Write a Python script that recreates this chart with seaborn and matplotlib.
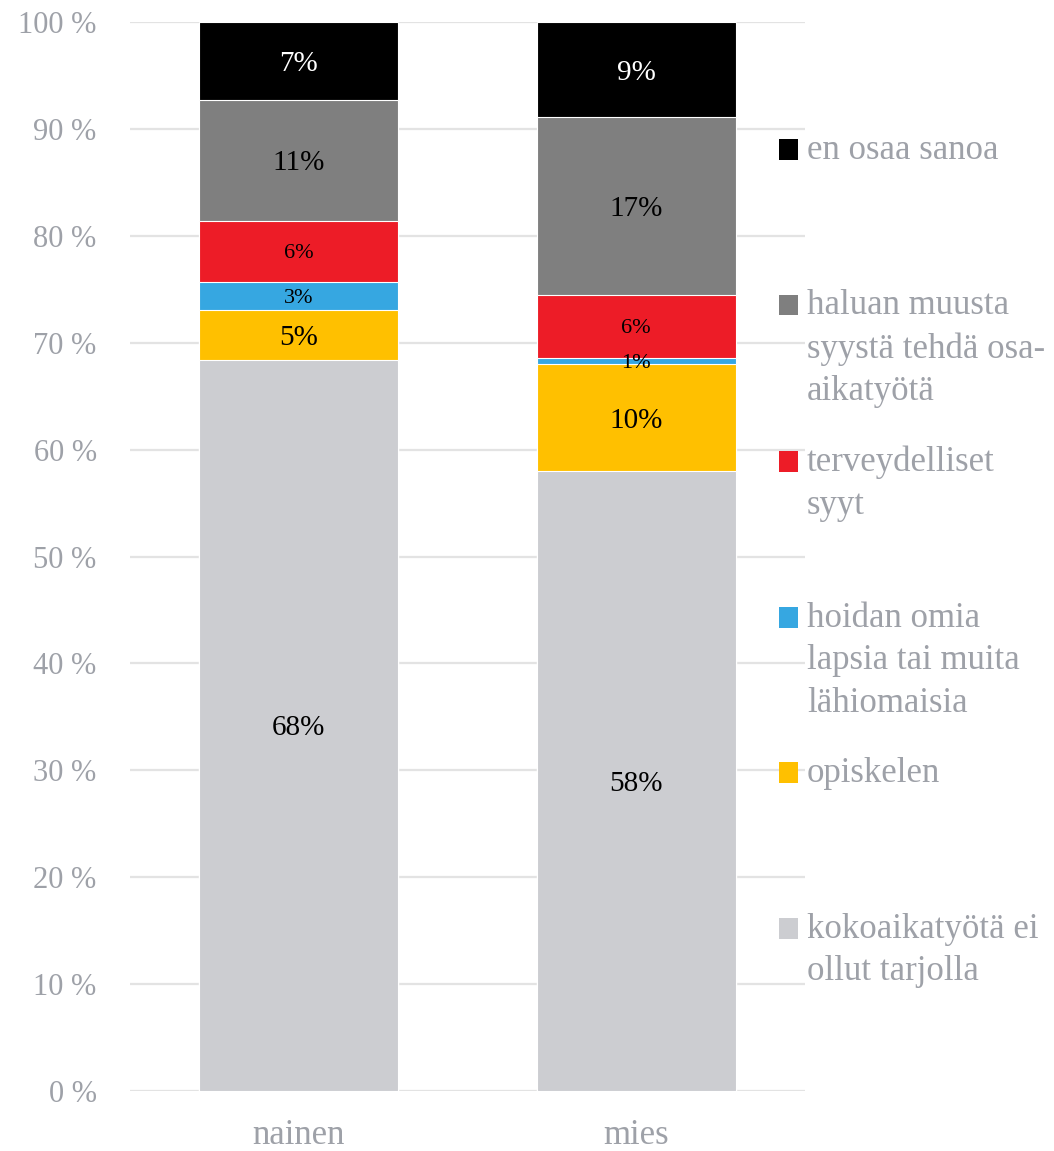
import numpy as np
import matplotlib
matplotlib.use('Agg')
import matplotlib.pyplot as plt
import seaborn as sns
from matplotlib.patches import Patch, Rectangle
from matplotlib.legend_handler import HandlerPatch

# data
ryhmat = ['nainen', 'mies']
syyt = ['kokoaikatyötä ei\nollut tarjolla',
        'opiskelen',
        'hoidan omia\nlapsia tai muita\nlähiomaisia',
        'terveydelliset\nsyyt',
        'haluan muusta\nsyystä tehdä osa-\naikatyötä',
        'en osaa sanoa']
nainen = [68.4, 4.7, 2.6, 5.7, 11.3, 7.3]
mies = [58.0, 10.0, 0.6, 5.9, 16.6, 8.9]

colors = ['#CCCDD1', '#FFC000', '#36A7E1', '#ED1C27', '#7F7F7F', '#000000']
label_colors = ['black', 'black', 'black', 'black', 'black', 'white']
small_labels = {2, 3}
text_gray = '#9EA1A8'

sns.set_style('white')
plt.rcParams['font.family'] = ['Liberation Serif', 'DejaVu Serif']

fig = plt.figure(figsize=(10.54, 11.51), dpi=100)
ax = fig.add_axes([130/1054, 1 - 1091/1151, 675/1054, 1069/1151])

vals = np.array([nainen, mies])  # shape (2, 6)
cum = np.cumsum(vals, axis=1)

# stacked bars: draw cumulative totals from the top segment down
for k in range(len(syyt) - 1, -1, -1):
    sns.barplot(x=ryhmat, y=cum[:, k], color=colors[k], saturation=1,
                width=0.59, edgecolor='white', linewidth=0.8, ax=ax)

# data labels
for i in range(len(ryhmat)):
    for k in range(len(syyt)):
        v = vals[i, k]
        mid = cum[i, k] - v / 2
        ax.text(i, mid, f"{v:.0f}%", ha='center', va='center_baseline',
                color=label_colors[k], fontsize=16 if k in small_labels else 21)

ax.set_ylim(0, 100)
ax.set_yticks(np.arange(0, 101, 10))
ax.set_yticklabels([f"{t} %" for t in range(0, 101, 10)])
ax.yaxis.grid(True, color='#E3E3E3', linewidth=1.6)
ax.set_axisbelow(True)
ax.tick_params(axis='y', length=0, pad=24, labelsize=22, labelcolor=text_gray)
ax.tick_params(axis='x', length=0, pad=20, labelsize=25, labelcolor=text_gray)
ax.set_xlabel('')
ax.set_ylabel('')
sns.despine(ax=ax, left=True, bottom=True)


# square legend marker, nudged down to sit on the first text line
def lowered_square(legend, orig_handle, xdescent, ydescent, width, height, fontsize):
    return Rectangle((-xdescent, -ydescent - 3.6), width, height)


# legend, top segment first, all entries padded to three lines
handles = []
for k in range(len(syyt) - 1, -1, -1):
    lab = syyt[k] + '\n' * (2 - syyt[k].count('\n'))
    handles.append(Patch(facecolor=colors[k], edgecolor='none', label=lab))
leg = fig.legend(handles=handles, loc='upper left',
                 bbox_to_anchor=(779/1054, 1 - 134/1151), frameon=False,
                 fontsize=25, handlelength=0.55, handleheight=0.55,
                 handletextpad=0.25, labelspacing=1.08, borderpad=0,
                 borderaxespad=0,
                 handler_map={Patch: HandlerPatch(patch_func=lowered_square)})
for t in leg.get_texts():
    t.set_color(text_gray)
    t.set_linespacing(1.38)
for col in leg._legend_handle_box.get_children():
    for row in col.get_children():
        row.align = 'top'

fig.savefig('out.png', dpi=100)
